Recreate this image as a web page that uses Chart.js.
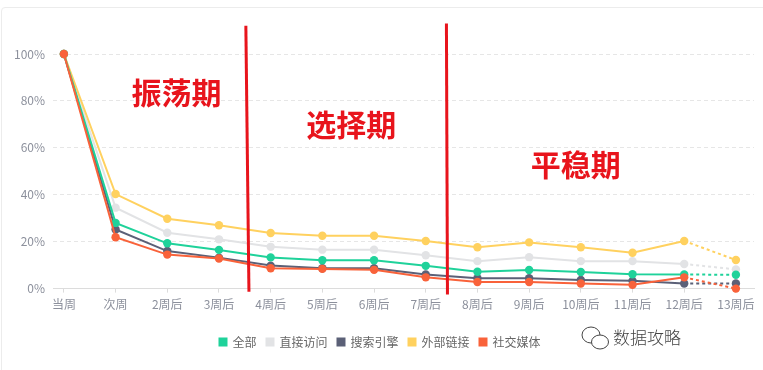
<!DOCTYPE html>
<html>
<head>
<meta charset="utf-8">
<script src="https://cdn.jsdelivr.net/npm/chart.js@4/dist/chart.umd.min.js"></script>
<style>
  body { margin: 0; background: #fff; }
  #wrap { position: relative; width: 763px; height: 370px; overflow: hidden; }
  #card { position: absolute; left: 1px; top: 7px; width: 800px; height: 400px;
          border: 1px solid #ececec; border-radius: 4px; }
  #myChart { position: absolute; left: 0; top: 0; }
</style>
</head>
<body>
<div id="wrap">
  <div id="card"></div>
  <canvas id="myChart" width="763" height="370"></canvas>
</div>
<script>
var weekLabels = ["当周", "次周", "2周后", "3周后", "4周后", "5周后", "6周后",
  "7周后", "8周后", "9周后", "10周后", "11周后", "12周后", "13周后"];

var allUsers = [100, 28, 19.3, 16.5, 13.3, 12.1, 12.1, 9.7, 7.2, 7.9, 7.1, 6.1, 6.0, 5.9];
var directVisit = [100, 34.5, 23.8, 21.0, 17.8, 16.6, 16.6, 14.2, 11.7, 13.4, 11.7, 11.7, 10.5, 8.2];
var searchEngine = [100, 25.2, 16.0, 13.2, 9.8, 8.7, 8.7, 6.0, 4.4, 4.4, 3.7, 3.3, 2.2, 2.2];
var externalLink = [100, 40.3, 29.8, 27.0, 23.7, 22.5, 22.5, 20.3, 17.6, 19.7, 17.6, 15.3, 20.3, 12.2];
var socialMedia = [100, 21.9, 14.5, 12.8, 8.7, 8.4, 8.0, 4.8, 2.8, 2.8, 2.2, 1.6, 4.8, 0];

var seriesNames = ["全部", "直接访问", "搜索引擎", "外部链接", "社交媒体"];
var seriesColors = ["#1fd29a", "#e2e3e5", "#5b6077", "#ffd15f", "#f9623a"];
var seriesData = [allUsers, directVisit, searchEngine, externalLink, socialMedia];
// which one ends up on top
var drawOrder = [1, 4, 3, 2, 0];

var yTicks = [0, 20, 40, 60, 80, 100];

// red notes drawn on the chart (x in week index, y in %)
var phaseNames = ["振荡期", "选择期", "平稳期"];
var phaseX = [2.18, 5.56, 9.9];
var phaseY = [83.5, 70, 53];
var dividerX = [[3.52, 3.58], [7.4, 7.42]];
var dividerTop = [112, 113];
var dividerBottom = [-1.3, -2.5];

function toPoints(arr) {
  var pts = [];
  for (var i = 0; i < arr.length; i++) {
    pts.push({ x: i, y: arr[i] });
  }
  return pts;
}

var datasets = [];
for (var i = 0; i < seriesNames.length; i++) {
  datasets.push({
    label: seriesNames[i],
    data: toPoints(seriesData[i]),
    borderColor: seriesColors[i],
    backgroundColor: seriesColors[i],
    pointBackgroundColor: seriesColors[i],
    pointBorderWidth: 0,
    pointRadius: 4.2,
    borderWidth: 2,
    fill: false,
    tension: 0,
    clip: false,
    order: drawOrder[i],
    segment: {
      borderDash: function (ctx) {
        return ctx.p1DataIndex === 13 ? [3, 3] : undefined;
      },
    },
  });
}

var notesPlugin = {
  id: "notes",
  afterDatasetsDraw: function (chart) {
    var c = chart.ctx;
    var xs = chart.scales.x;
    var ys = chart.scales.y;
    c.save();
    c.strokeStyle = "#e8141c";
    c.lineWidth = 3;
    for (var i = 0; i < dividerX.length; i++) {
      c.beginPath();
      c.moveTo(xs.getPixelForValue(dividerX[i][0]), ys.getPixelForValue(dividerTop[i]));
      c.lineTo(xs.getPixelForValue(dividerX[i][1]), ys.getPixelForValue(dividerBottom[i]));
      c.stroke();
    }
    c.fillStyle = "#e8141c";
    c.font = "bold 30px 'Noto Sans CJK SC'";
    c.textAlign = "center";
    c.textBaseline = "middle";
    for (var j = 0; j < phaseNames.length; j++) {
      c.fillText(phaseNames[j], xs.getPixelForValue(phaseX[j]), ys.getPixelForValue(phaseY[j]));
    }

    // watermark bottom right
    var w = chart.width;
    c.strokeStyle = "#444";
    c.lineWidth = 1;
    c.beginPath();
    c.ellipse(w - 172, 335, 9, 8, 0, 0, Math.PI * 2);
    c.stroke();
    c.fillStyle = "#fff";
    c.beginPath();
    c.ellipse(w - 163, 342, 8.5, 7, 0, 0, Math.PI * 2);
    c.fill();
    c.stroke();
    c.fillStyle = "#444";
    c.font = "300 17px 'Noto Sans CJK SC'";
    c.textAlign = "left";
    c.fillText("数据攻略", w - 150, 338);
    c.restore();
  },
};

var ctx = document.getElementById("myChart").getContext("2d");
var myLineChart = new Chart(ctx, {
  type: "line",
  data: { datasets: datasets },
  options: {
    responsive: false,
    animation: false,
    layout: { padding: { left: 6, right: 9, top: 54, bottom: 12 } },
    plugins: {
      tooltip: { enabled: false },
      legend: {
        position: "bottom",
        labels: {
          boxWidth: 7,
          boxHeight: 7,
          padding: 10,
          color: "#666",
          font: { family: "'Noto Sans CJK SC'", size: 12 },
          sort: function (a, b) { return a.datasetIndex - b.datasetIndex; },
        },
      },
    },
    scales: {
      x: {
        type: "linear",
        min: -0.21,
        max: 13.35,
        afterFit: function (scale) { scale.height += 9; },
        grid: { drawOnChartArea: false, tickLength: 4, color: "#dcdcdc" },
        border: { display: true, color: "#dcdcdc" },
        ticks: {
          stepSize: 1,
          includeBounds: false,
          autoSkip: false,
          maxTicksLimit: 30,
          maxRotation: 0,
          padding: 5,
          color: "#8c909c",
          font: { family: "'Noto Sans CJK SC'", size: 12 },
          callback: function (v) { return weekLabels[v] || ""; },
        },
      },
      y: {
        min: 0,
        max: 100,
        afterBuildTicks: function (axis) {
          axis.ticks = yTicks.map(function (v) { return { value: v }; });
        },
        grid: { drawTicks: false, color: "#e6e6e6" },
        border: { display: false, dash: [4, 3] },
        ticks: {
          padding: 8,
          color: "#8c909c",
          font: { family: "'Noto Sans CJK SC'", size: 12 },
          callback: function (v) { return v + "%"; },
        },
      },
    },
  },
  plugins: [notesPlugin],
});
</script>
</body>
</html>
